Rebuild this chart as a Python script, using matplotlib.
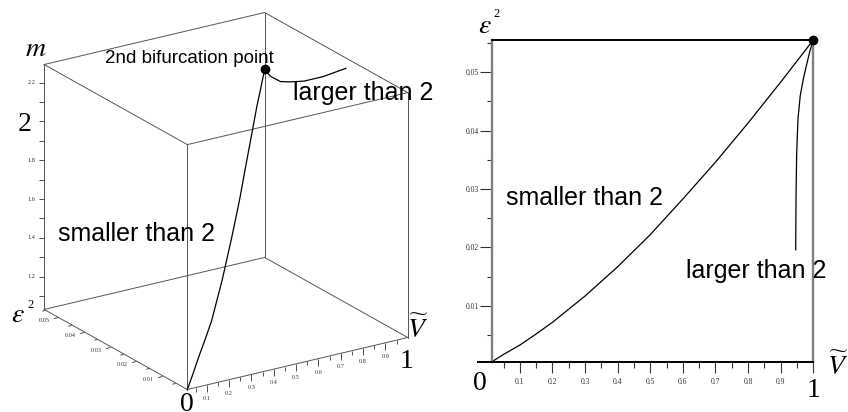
"""Bifurcation of the exponent m over (V~, eps^2): a boxed 3D view and its (V~, eps^2) projection."""
import matplotlib
matplotlib.use("Agg")
import matplotlib.pyplot as plt
from matplotlib.path import Path
from matplotlib.markers import TICKDOWN, TICKLEFT
from matplotlib.transforms import offset_copy

plt.rcParams["mathtext.fontset"] = "stix"

SERIF = "Liberation Serif"
SANS = "Liberation Sans"
EDGE = "#555555"
SPINE = "#808080"
TICKC = "#333333"

# branch with m < 2, from the origin up to the bifurcation point
V_LOW = [0.013, 0.05, 0.1, 0.15, 0.2, 0.3, 0.4, 0.5, 0.6, 0.7, 0.8, 0.9, 1.0]
EPS_LOW = [0.0004, 0.0017, 0.0033, 0.0052, 0.0072, 0.0117, 0.0167, 0.0222,
           0.0283, 0.0346, 0.0413, 0.0483, 0.0555]
M_LOW = [1.03, 1.08, 1.16, 1.22, 1.28, 1.43, 1.58, 1.71, 1.82, 1.91, 1.97, 1.99, 2.0]

# branch with m > 2, leaving the bifurcation point
V_HIGH = [1.0, 0.99, 0.98, 0.97, 0.96, 0.953, 0.949, 0.947, 0.946]
EPS_HIGH = [0.0555, 0.0537, 0.0514, 0.0490, 0.0460, 0.0420, 0.0360, 0.0285, 0.0196]
M_HIGH = [2.0, 2.0, 2.0, 2.01, 2.02, 2.05, 2.10, 2.18, 2.29]

BIF = (1.0, 0.0555, 2.0)  # 2nd bifurcation point (V, eps^2, m)

V_LIM = (0.013, 1.0)
EPS_LIM = (0.0004, 0.0555)
M_LIM = (1.03, 2.294)

V_TICKS = [0.1, 0.2, 0.3, 0.4, 0.5, 0.6, 0.7, 0.8, 0.9]
V_MINOR = [0.05, 0.15, 0.25, 0.35, 0.45, 0.55, 0.65, 0.75, 0.85, 0.95]
EPS_TICKS = [0.01, 0.02, 0.03, 0.04, 0.05]
EPS_MINOR = [0.005, 0.015, 0.025, 0.035, 0.045, 0.055]
M_TICKS = [1.2, 1.4, 1.6, 1.8, 2.2]
M_MINOR = [1.1, 1.3, 1.5, 1.7, 1.9, 2.1]

W, H = 848, 412
fig = plt.figure(figsize=(W / 100, H / 100), dpi=100)


def px_rect(x0, y_top, w, h):
    return [x0 / W, (H - y_top - h) / H, w / W, h / H]


def tag3d(ax, pt, s, dx, dy, **kw):
    # text pinned to a 3D point, shifted by (dx, dy) pixels on screen
    tr = offset_copy(ax.transData, fig=fig, x=dx, y=dy, units="dots")
    return ax.text(*pt, s, transform=tr, **kw)


# ---------------- left: boxed 3D view ----------------
ax3 = fig.add_axes(px_rect(-1, -14, 442, 442), projection="3d",
                   proj_type="ortho", computed_zorder=False)
ax3.view_init(elev=21.3, azim=-123)
ax3.set_box_aspect((1, 1, 1))
ax3.set_xlim(*V_LIM)
ax3.set_ylim(*EPS_LIM)
ax3.set_zlim(*M_LIM)
ax3.set_axis_off()

v0, v1 = V_LIM
e0, e1 = EPS_LIM
m0, m1 = M_LIM
box = dict(color=EDGE, lw=0.7)
for v in V_LIM:
    for e in EPS_LIM:
        ax3.plot([v, v], [e, e], [m0, m1], **box)
for v in V_LIM:
    for m in M_LIM:
        ax3.plot([v, v], [e0, e1], [m, m], **box)
for e in EPS_LIM:
    for m in M_LIM:
        ax3.plot([v0, v1], [e, e], [m, m], **box)

# V ticks hang down from the front edge
ax3.plot(V_TICKS, [e0] * len(V_TICKS), [m0] * len(V_TICKS), ls="none",
         marker=TICKDOWN, ms=5, mew=0.6, color=TICKC)
ax3.plot(V_MINOR, [e0] * len(V_MINOR), [m0] * len(V_MINOR), ls="none",
         marker=TICKDOWN, ms=3, mew=0.6, color=TICKC)
for v in V_TICKS:
    tag3d(ax3, (v, e0, m0), f"{v:g}", 0, -13.5, fontsize=4.5, family=SERIF,
          color=TICKC, ha="center", va="center")

# eps^2 ticks point back along -V
eps_tick = Path([(0, 0), (-1, -0.235)])
ax3.plot([v0] * len(EPS_TICKS), EPS_TICKS, [m0] * len(EPS_TICKS), ls="none",
         marker=eps_tick, ms=6.5, mew=0.6, color=TICKC)
ax3.plot([v0] * len(EPS_MINOR), EPS_MINOR, [m0] * len(EPS_MINOR), ls="none",
         marker=eps_tick, ms=4.5, mew=0.6, color=TICKC)
for e in EPS_TICKS:
    tag3d(ax3, (v0, e, m0), f"{e:g}", -14.5, -3.5, fontsize=4.5, family=SERIF,
          color=TICKC, ha="center", va="center")

# m ticks on the back-left vertical edge
m_all = M_TICKS + M_MINOR + [2.0]
ax3.plot([v0] * len(m_all), [e1] * len(m_all), m_all, ls="none",
         marker=TICKLEFT, ms=3.3, mew=0.6, color=TICKC)
for m in M_TICKS:
    tag3d(ax3, (v0, e1, m), f"{m:g}", -13, 0, fontsize=4.5, family=SERIF,
          color=TICKC, ha="center", va="center")

big = dict(fontsize=20, family=SERIF, va="baseline")
tag3d(ax3, (v0, e1, 2.0), "2", -19.5, -9.3, ha="center", **big)
tag3d(ax3, (v0, e0, m0), "0", 0, -21, ha="center", **big)
tag3d(ax3, (v1, e0, m0), "1", -1, -30, ha="center", **big)
tag3d(ax3, (v1, e0, m0), r"$\widetilde{V}$", 10, 0, ha="center", **big)
tag3d(ax3, (v0, e1, m1), r"$m$", -19, 9, ha="left", **big)
tag3d(ax3, (v0, e1, m0), r"$\varepsilon$", -26.5, -13, ha="center", **big)
tag3d(ax3, (v0, e1, m0), "2", -17, 1, ha="left", fontsize=9, family=SERIF,
      va="baseline")

ax3.plot(V_LOW, EPS_LOW, M_LOW, color="black", lw=0.9)
ax3.plot(V_HIGH, EPS_HIGH, M_HIGH, color="black", lw=0.9)
ax3.plot([BIF[0]], [BIF[1]], [BIF[2]], "o", color="black", ms=6)

tag3d(ax3, BIF, "2nd bifurcation point", -160, 6, fontsize=13.5, family=SANS,
      va="baseline", ha="left")
tag3d(ax3, BIF, "larger than 2", 28, -31, fontsize=18, family=SANS,
      va="baseline", ha="left")
tag3d(ax3, (v0, e1, m0), "smaller than 2", 14, 68, fontsize=18, family=SANS,
      va="baseline", ha="left")

# ---------------- right: (V~, eps^2) plane ----------------
ax2 = fig.add_axes(px_rect(478, 40, 335.3, 322))
ax2.set_xlim(-0.0285, 1.0)
ax2.set_ylim(*EPS_LIM)
ax2.patch.set_alpha(0)

ax2.spines["left"].set_position(("data", v0))
ax2.spines["top"].set_bounds(v0, v1)
for side, col, lw in [("left", SPINE, 1.7), ("right", SPINE, 1.7),
                      ("top", "black", 1.4), ("bottom", "black", 1.4)]:
    ax2.spines[side].set_color(col)
    ax2.spines[side].set_linewidth(lw)

ax2.set_xticks(V_TICKS + [1.0], labels=[f"{v:g}" for v in V_TICKS] + [""])
ax2.set_xticks(V_MINOR, minor=True)
ax2.set_yticks(EPS_TICKS, labels=[f"{e:g}" for e in EPS_TICKS])
ax2.set_yticks(EPS_MINOR, minor=True)
ax2.tick_params(axis="both", which="both", direction="out", width=0.8,
                color=TICKC, labelcolor=TICKC, labelsize=5.5,
                labelfontfamily=SERIF)
ax2.tick_params(axis="x", which="major", length=8, pad=3.2)
ax2.tick_params(axis="x", which="minor", length=4.3)
ax2.tick_params(axis="y", which="major", length=8.4, pad=0.8)
ax2.tick_params(axis="y", which="minor", length=3.6)

ax2.plot(V_LOW, EPS_LOW, color="black", lw=0.9)
ax2.plot(V_HIGH, EPS_HIGH, color="black", lw=0.9)
ax2.plot([BIF[0]], [BIF[1]], "o", color="black", ms=6, clip_on=False, zorder=5)

ax2.text(0.057, 0.0272, "smaller than 2", fontsize=18, family=SANS, va="baseline")
ax2.text(0.609, 0.0148, "larger than 2", fontsize=18, family=SANS, va="baseline")

lab = dict(textcoords="offset pixels", annotation_clip=False, va="baseline")
ax2.annotate("0", (v0, e0), (-11.7, -28.4), ha="center", fontsize=20,
             family=SERIF, **lab)
ax2.annotate("1", (v1, e0), (0, -34.7), ha="center", fontsize=20,
             family=SERIF, **lab)
ax2.annotate(r"$\widetilde{V}$", (v1, e0), (24.2, -13), ha="center",
             fontsize=20, **lab)
ax2.annotate(r"$\varepsilon$", (v0, e1), (-6.2, 7), ha="center", fontsize=20, **lab)
ax2.annotate("2", (v0, e1), (2.3, 23), ha="left", fontsize=9, family=SERIF, **lab)

fig.savefig("out.png", dpi=100)
